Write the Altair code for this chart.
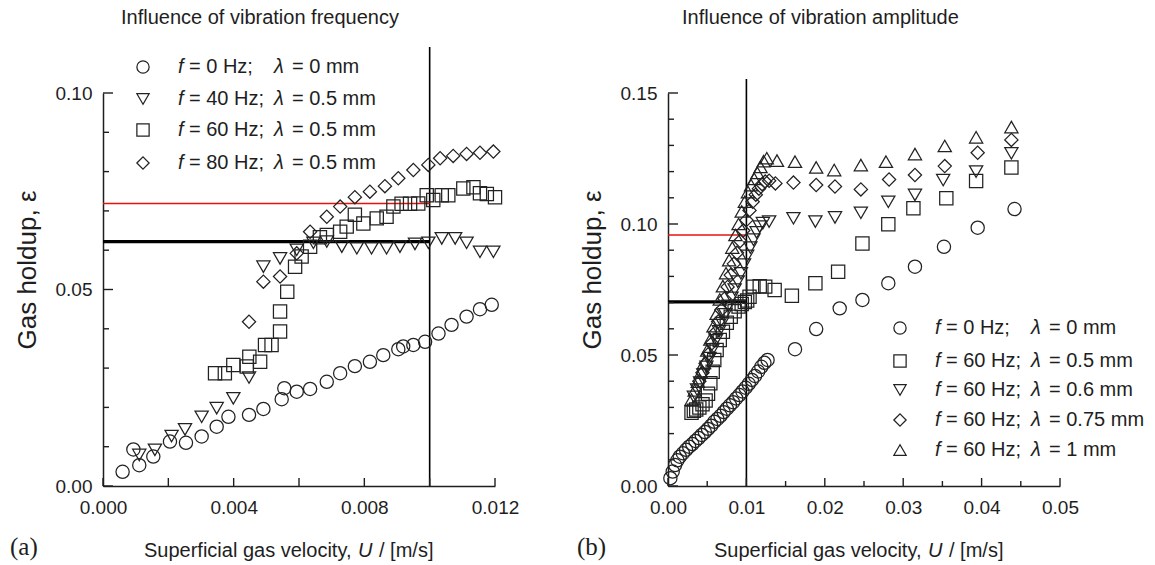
import altair as alt
import pandas as pd

FONT = "Liberation Sans"
SERIF = "Liberation Serif"
INK = "#1e1e1e"

# ---------------- panel (a): influence of vibration frequency ----------------
a_title = "Influence of vibration frequency"
a_tag = "(a)"
a_f0_x = [0.00060, 0.00093, 0.00111, 0.00154, 0.00205, 0.00254, 0.00302, 0.00348, 0.00384,
          0.00447, 0.00491, 0.00547, 0.00555, 0.00593, 0.00634, 0.00685, 0.00726, 0.00771,
          0.00817, 0.00858, 0.00904, 0.00919, 0.00950, 0.00986, 0.01027, 0.01067, 0.01113,
          0.01154, 0.01190]
a_f0_y = [0.0036, 0.0093, 0.0053, 0.0075, 0.0113, 0.0110, 0.0126, 0.0151, 0.0176,
          0.0181, 0.0196, 0.0221, 0.0249, 0.0240, 0.0247, 0.0265, 0.0287, 0.0305,
          0.0316, 0.0333, 0.0348, 0.0355, 0.0359, 0.0367, 0.0388, 0.0410, 0.0431,
          0.0450, 0.0461]
a_f40_x = [0.00111, 0.00159, 0.00210, 0.00251, 0.00302, 0.00348, 0.00399, 0.00447, 0.00491,
           0.00542, 0.00593, 0.00644, 0.00685, 0.00731, 0.00777, 0.00822, 0.00868, 0.00909,
           0.00955, 0.00996, 0.01037, 0.01078, 0.01113, 0.01154, 0.01195]
a_f40_y = [0.0079, 0.0092, 0.0127, 0.0144, 0.0176, 0.0198, 0.0223, 0.0276, 0.0558,
           0.0579, 0.0601, 0.0619, 0.0622, 0.0609, 0.0605, 0.0605, 0.0605, 0.0609,
           0.0616, 0.0619, 0.0630, 0.0630, 0.0619, 0.0596, 0.0596]
a_f60_x = [0.00343, 0.00373, 0.00399, 0.00440, 0.00448, 0.00481, 0.00496, 0.00516, 0.00542,
           0.00542, 0.00564, 0.00588, 0.00608, 0.00634, 0.00664, 0.00685, 0.00726, 0.00746,
           0.00771, 0.00797, 0.00838, 0.00868, 0.00889, 0.00914, 0.00940, 0.00965, 0.00991,
           0.01011, 0.01037, 0.01057, 0.01103, 0.01134, 0.01154, 0.01175, 0.01200]
a_f60_y = [0.0287, 0.0287, 0.0308, 0.0304, 0.0329, 0.0316, 0.0359, 0.0359, 0.0393,
           0.0444, 0.0494, 0.0558, 0.0584, 0.0609, 0.0633, 0.0639, 0.0647, 0.0660,
           0.0690, 0.0668, 0.0681, 0.0685, 0.0711, 0.0718, 0.0718, 0.0719, 0.0740,
           0.0728, 0.0740, 0.0740, 0.0757, 0.0760, 0.0745, 0.0743, 0.0735]
a_f80_x = [0.00447, 0.00491, 0.00542, 0.00593, 0.00634, 0.00685, 0.00726, 0.00771, 0.00817,
           0.00863, 0.00904, 0.00950, 0.00996, 0.01032, 0.01072, 0.01113, 0.01154, 0.01195]
a_f80_y = [0.0418, 0.0520, 0.0533, 0.0592, 0.0647, 0.0685, 0.0711, 0.0735, 0.0749,
           0.0763, 0.0783, 0.0804, 0.0817, 0.0834, 0.0840, 0.0845, 0.0848, 0.0851]
a_legend_f = ["= 0 Hz;", "= 40 Hz;", "= 60 Hz;", "= 80 Hz;"]
a_legend_l = ["= 0 mm", "= 0.5 mm", "= 0.5 mm", "= 0.5 mm"]
a_xdomain = [0.0, 0.012]
a_ydomain = [0.0, 0.10]
a_xlabels = [0.000, 0.004, 0.008, 0.012]
a_ylabels = [0.00, 0.05, 0.10]
a_xticks_major = [0.000, 0.002, 0.004, 0.006, 0.008, 0.010, 0.012]
a_xticks_minor = []
a_yticks_major = [0.00, 0.05, 0.10]
a_yticks_minor = [0.01, 0.02, 0.03, 0.04, 0.06, 0.07, 0.08, 0.09]
a_vline_x = 0.010
a_vline_top = 0.1117
a_hline_black = 0.0622
a_hline_red = 0.0719

# ---------------- panel (b): influence of vibration amplitude ----------------
b_title = "Influence of vibration amplitude"
b_tag = "(b)"
b_l0_x = [0.0003, 0.0006, 0.0009, 0.0012, 0.0015, 0.0019, 0.0023, 0.0027, 0.0031, 0.0035,
          0.0039, 0.0043, 0.0047, 0.0051, 0.0055, 0.0059, 0.0063, 0.0067, 0.0071, 0.0075,
          0.0079, 0.0083, 0.0087, 0.0091, 0.0095, 0.0099, 0.0103, 0.0107, 0.0111, 0.0115,
          0.0119, 0.0123, 0.0127, 0.0162, 0.0189, 0.0219, 0.0248, 0.0281, 0.0315, 0.0352,
          0.0395, 0.0442]
b_l0_y = [0.0030, 0.0055, 0.0080, 0.0098, 0.0112, 0.0125, 0.0138, 0.0150, 0.0160, 0.0172,
          0.0183, 0.0195, 0.0206, 0.0218, 0.0230, 0.0245, 0.0256, 0.0268, 0.0282, 0.0295,
          0.0308, 0.0320, 0.0334, 0.0347, 0.0361, 0.0375, 0.0390, 0.0405, 0.0420, 0.0437,
          0.0455, 0.0470, 0.0481, 0.0522, 0.0599, 0.0678, 0.0710, 0.0774, 0.0837, 0.0913,
          0.0986, 0.1057]
b_l05_x = [0.0030, 0.0033, 0.0036, 0.0040, 0.0044, 0.0048, 0.0051, 0.0054, 0.0057, 0.0059,
           0.0062, 0.0066, 0.0070, 0.0075, 0.0080, 0.0085, 0.0090, 0.0094, 0.0098, 0.0101,
           0.0104, 0.0109, 0.0117, 0.0124, 0.0136, 0.0158, 0.0188, 0.0217, 0.0248, 0.0281,
           0.0313, 0.0355, 0.0393, 0.0438]
b_l05_y = [0.0280, 0.0287, 0.0292, 0.0300, 0.0312, 0.0326, 0.0352, 0.0392, 0.0436, 0.0481,
           0.0519, 0.0557, 0.0589, 0.0623, 0.0646, 0.0667, 0.0685, 0.0695, 0.0702, 0.0708,
           0.0722, 0.0761, 0.0762, 0.0761, 0.0748, 0.0726, 0.0774, 0.0818, 0.0926, 0.0999,
           0.1060, 0.1098, 0.1164, 0.1216]
b_l06_x = [0.0033, 0.0037, 0.0041, 0.0045, 0.0049, 0.0053, 0.0057, 0.0061, 0.0065, 0.0069,
           0.0073, 0.0077, 0.0081, 0.0085, 0.0089, 0.0093, 0.0097, 0.0101, 0.0105, 0.0109,
           0.0113, 0.0117, 0.0121, 0.0129, 0.0160, 0.0188, 0.0213, 0.0246, 0.0281, 0.0315,
           0.0351, 0.0393, 0.0438]
b_l06_y = [0.0340, 0.0368, 0.0395, 0.0425, 0.0455, 0.0488, 0.0522, 0.0556, 0.0590, 0.0622,
           0.0655, 0.0688, 0.0718, 0.0750, 0.0780, 0.0812, 0.0845, 0.0878, 0.0910, 0.0940,
           0.0968, 0.0990, 0.1003, 0.1009, 0.1022, 0.1009, 0.1025, 0.1043, 0.1085, 0.1111,
           0.1168, 0.1200, 0.1270]
b_l075_x = [0.0040, 0.0044, 0.0048, 0.0052, 0.0056, 0.0060, 0.0064, 0.0068, 0.0072, 0.0076,
            0.0080, 0.0084, 0.0088, 0.0092, 0.0096, 0.0100, 0.0104, 0.0108, 0.0112, 0.0116,
            0.0120, 0.0124, 0.0129, 0.0137, 0.0160, 0.0189, 0.0213, 0.0246, 0.0282, 0.0315,
            0.0353, 0.0395, 0.0438]
b_l075_y = [0.0400, 0.0432, 0.0468, 0.0505, 0.0545, 0.0585, 0.0628, 0.0672, 0.0715, 0.0760,
            0.0805, 0.0848, 0.0890, 0.0935, 0.0975, 0.1015, 0.1052, 0.1085, 0.1112, 0.1135,
            0.1152, 0.1162, 0.1165, 0.1155, 0.1158, 0.1149, 0.1143, 0.1132, 0.1170, 0.1187,
            0.1221, 0.1272, 0.1321]
b_l1_x = [0.0030, 0.0034, 0.0038, 0.0042, 0.0046, 0.0050, 0.0054, 0.0058, 0.0062, 0.0066,
          0.0070, 0.0074, 0.0078, 0.0082, 0.0086, 0.0090, 0.0094, 0.0098, 0.0102, 0.0106,
          0.0110, 0.0114, 0.0118, 0.0122, 0.0126, 0.0139, 0.0162, 0.0189, 0.0212, 0.0246,
          0.0278, 0.0315, 0.0353, 0.0393, 0.0438]
b_l1_y = [0.0330, 0.0365, 0.0398, 0.0433, 0.0470, 0.0518, 0.0560, 0.0610, 0.0658, 0.0712,
          0.0763, 0.0812, 0.0862, 0.0910, 0.0958, 0.1000, 0.1048, 0.1085, 0.1122, 0.1148,
          0.1172, 0.1195, 0.1218, 0.1240, 0.1251, 0.1242, 0.1238, 0.1216, 0.1206, 0.1225,
          0.1238, 0.1267, 0.1298, 0.1331, 0.1370]
b_legend_f = ["= 0 Hz;", "= 60 Hz;", "= 60 Hz;", "= 60 Hz;", "= 60 Hz;"]
b_legend_l = ["= 0 mm", "= 0.5 mm", "= 0.6 mm", "= 0.75 mm", "= 1 mm"]
b_xdomain = [0.0, 0.05]
b_ydomain = [0.0, 0.15]
b_xlabels = [0.00, 0.01, 0.02, 0.03, 0.04, 0.05]
b_ylabels = [0.00, 0.05, 0.10, 0.15]
b_xticks_major = [0.00, 0.01, 0.02, 0.03, 0.04, 0.05]
b_xticks_minor = [0.005, 0.015, 0.025, 0.035, 0.045]
b_yticks_major = [0.00, 0.05, 0.10, 0.15]
b_yticks_minor = [0.01, 0.02, 0.03, 0.04, 0.06, 0.07, 0.08, 0.09, 0.11, 0.12, 0.13, 0.14]
b_vline_x = 0.010
b_vline_top = 0.1553
b_hline_black = 0.0703
b_hline_red = 0.0958

y_title = "Gas holdup, ε"
x_title = "Superficial gas velocity,"
x_title_u = "U"
x_title_unit = "/ [m/s]"

W, H = 392, 393
MSIZE = 175


def pts(x, y):
    return pd.DataFrame({"U": x, "eps": y})


def txt(label, x, y, size, style="normal", align="left", baseline="middle",
        font=FONT, angle=0, weight="normal"):
    return alt.Chart(pd.DataFrame({"s": [label]})).mark_text(
        font=font, fontSize=size, fontStyle=style, fontWeight=weight, align=align,
        baseline=baseline, color=INK, angle=angle
    ).encode(x=alt.value(x), y=alt.value(y), text="s:N")


def panel(series, shapes, legend_f, legend_l, xdom, ydom, xlabels, ylabels, xfmt,
          xt_major, xt_minor, yt_major, yt_minor, vline_x, vline_top, hb, hr,
          title, title_dx, tag, tag_dx, xtitle_x0, leg_x, leg_rows):
    xs = alt.Scale(domain=xdom, nice=False, zero=False)
    ys = alt.Scale(domain=ydom, nice=False, zero=False)
    common = dict(title=None, grid=False, ticks=False, tickSize=0, domain=True,
                  domainColor=INK, domainWidth=1.5, labelFont=FONT, labelFontSize=19,
                  labelColor=INK, labelFlush=False, labelOverlap=False)
    xax = alt.Axis(values=xlabels, format=xfmt, labelPadding=12, **common)
    yax = alt.Axis(values=ylabels, format=".2f", labelPadding=11, **common)

    def X(f):
        return alt.X(f, type="quantitative", scale=xs, axis=xax)

    def Y(f):
        return alt.Y(f, type="quantitative", scale=ys, axis=yax)

    layers = []
    # reference lines
    layers.append(alt.Chart(pd.DataFrame({"U": [vline_x], "y0": [ydom[0]], "y1": [vline_top]}))
                  .mark_rule(color="black", strokeWidth=1.6)
                  .encode(x=X("U"), y=Y("y0"), y2="y1"))
    layers.append(alt.Chart(pd.DataFrame({"x0": [xdom[0]], "x1": [vline_x], "h": [hb]}))
                  .mark_rule(color="black", strokeWidth=3.2)
                  .encode(x=X("x0"), x2="x1", y=Y("h")))
    layers.append(alt.Chart(pd.DataFrame({"x0": [xdom[0]], "x1": [vline_x], "h": [hr]}))
                  .mark_rule(color="#e8120c", strokeWidth=1.6)
                  .encode(x=X("x0"), x2="x1", y=Y("h")))
    # inward ticks
    for vals, ln in ((xt_major, 8), (xt_minor, 5)):
        if vals:
            layers.append(alt.Chart(pd.DataFrame({"t": vals})).mark_rule(color=INK, strokeWidth=1.4)
                          .encode(x=X("t"), y=alt.value(H), y2=alt.value(H - ln)))
    for vals, ln in ((yt_major, 10), (yt_minor, 6)):
        if vals:
            layers.append(alt.Chart(pd.DataFrame({"t": vals})).mark_rule(color=INK, strokeWidth=1.4)
                          .encode(y=Y("t"), x=alt.value(0), x2=alt.value(ln)))
    # data
    for (sx, sy), shp in zip(series, shapes):
        layers.append(alt.Chart(pts(sx, sy)).mark_point(
            shape=shp, filled=False, stroke="#222222", strokeWidth=1.25, size=MSIZE, opacity=1)
            .encode(x=X("U"), y=Y("eps")))
    # legend
    for i, shp in enumerate(shapes):
        ry = leg_rows[i]
        layers.append(alt.Chart(pd.DataFrame({"s": [shp]})).mark_point(
            shape=shp, filled=False, stroke="#222222", strokeWidth=1.25, size=150, opacity=1)
            .encode(x=alt.value(leg_x), y=alt.value(ry)))
        tx = leg_x + 35
        layers.append(txt("f", tx, ry, 20, style="italic"))
        layers.append(txt(legend_f[i], tx + 11, ry, 20))
        layers.append(txt("λ", tx + 96, ry, 20, style="italic"))
        layers.append(txt(legend_l[i], tx + 114, ry, 20))
    # titles
    layers.append(txt(title, title_dx, -69, 20, baseline="alphabetic"))
    layers.append(txt(y_title, -75, 177, 26, align="center", angle=270))
    layers.append(txt(tag, tag_dx, 462, 25, font=SERIF, baseline="alphabetic"))
    layers.append(txt(x_title, xtitle_x0, 464, 20, baseline="alphabetic"))
    layers.append(txt(x_title_u, xtitle_x0 + 214, 464, 20, style="italic", baseline="alphabetic"))
    layers.append(txt(x_title_unit, xtitle_x0 + 235, 464, 20, baseline="alphabetic"))
    return alt.layer(*layers).properties(width=W, height=H)


left = panel(
    [(a_f0_x, a_f0_y), (a_f40_x, a_f40_y), (a_f60_x, a_f60_y), (a_f80_x, a_f80_y)],
    ["circle", "triangle-down", "square", "diamond"],
    a_legend_f, a_legend_l, a_xdomain, a_ydomain, a_xlabels, a_ylabels, ".3f",
    a_xticks_major, a_xticks_minor, a_yticks_major, a_yticks_minor,
    a_vline_x, a_vline_top, a_hline_black, a_hline_red,
    a_title, 18, a_tag, -93, 41, 40, [-26, 6, 37, 70])

right = panel(
    [(b_l0_x, b_l0_y), (b_l05_x, b_l05_y), (b_l06_x, b_l06_y), (b_l075_x, b_l075_y), (b_l1_x, b_l1_y)],
    ["circle", "square", "triangle-down", "diamond", "triangle-up"],
    b_legend_f, b_legend_l, b_xdomain, b_ydomain, b_xlabels, b_ylabels, ".2f",
    b_xticks_major, b_xticks_minor, b_yticks_major, b_yticks_minor,
    b_vline_x, b_vline_top, b_hline_black, b_hline_red,
    b_title, 14, b_tag, -91, 46, 232, [235, 268, 297, 327, 357])

chart = alt.hconcat(left, right, spacing=173, bounds="flush").properties(
    padding={"left": 10, "top": 8, "right": 2, "bottom": 0}
).configure_view(stroke=None)

chart.save("out.html", embed_options={"renderer": "svg", "actions": False})
